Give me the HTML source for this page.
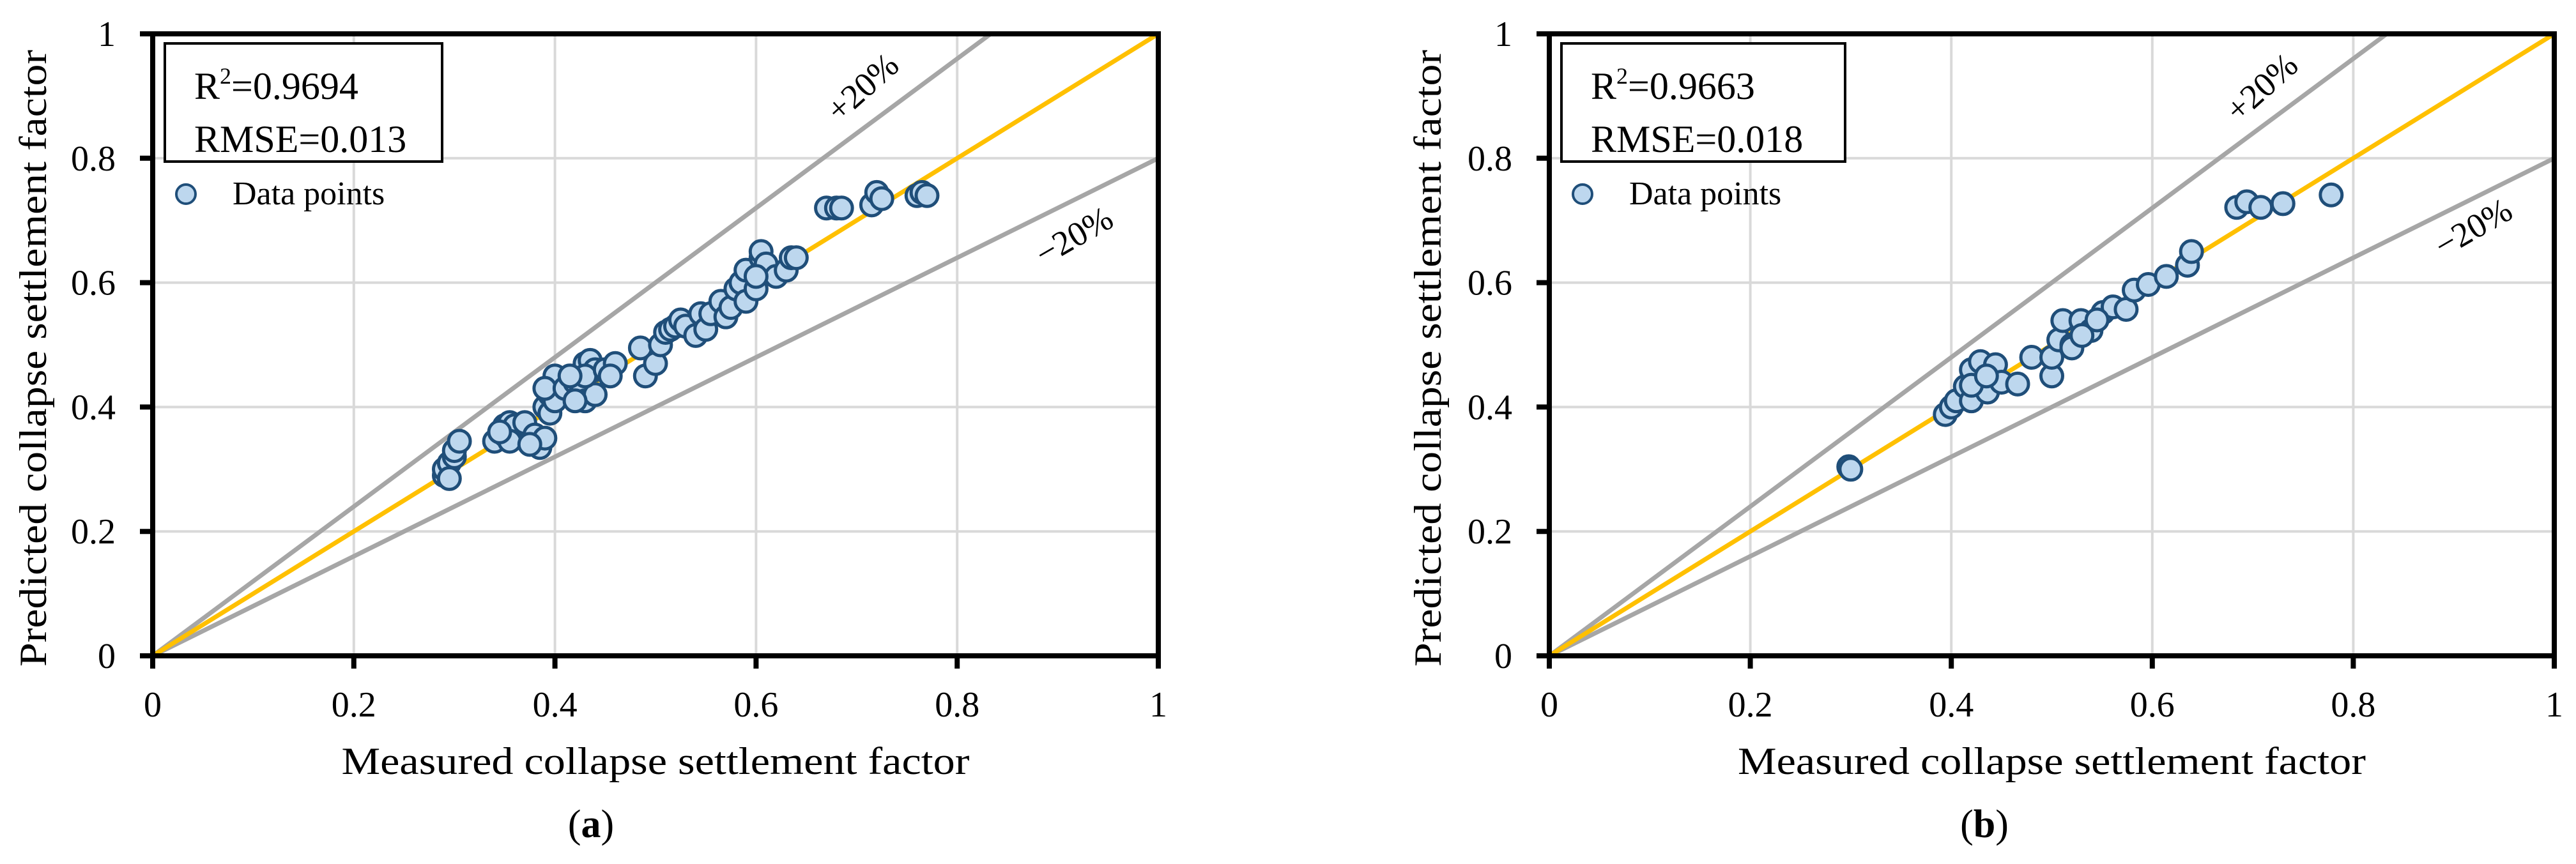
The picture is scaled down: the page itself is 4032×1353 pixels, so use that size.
<!DOCTYPE html>
<html><head><meta charset="utf-8"><style>
html,body{margin:0;padding:0;background:#fff;}
svg{display:block;font-family:"Liberation Serif",serif;}
</style></head><body>
<svg id="fig" width="4032" height="1353" viewBox="0 0 4032 1353" xmlns="http://www.w3.org/2000/svg"></svg>
<script>
const ticks = [0, 0.2, 0.4, 0.6, 0.8, 1];
const tickLabels = ["0", "0.2", "0.4", "0.6", "0.8", "1"];
const measuredA = [0.29,0.29,0.295,0.30,0.30,0.305,0.295,0.34,0.35,0.355,0.35,0.36,0.37,0.355,0.345,0.38,0.385,0.38,0.39,0.375,0.39,0.395,0.40,0.40,0.395,0.40,0.39,0.41,0.42,0.425,0.43,0.435,0.44,0.43,0.44,0.43,0.45,0.46,0.455,0.415,0.42,0.485,0.49,0.50,0.505,0.51,0.515,0.52,0.525,0.53,0.54,0.545,0.55,0.555,0.565,0.57,0.575,0.58,0.585,0.59,0.59,0.60,0.605,0.605,0.61,0.62,0.63,0.635,0.64,0.60,0.67,0.68,0.685,0.715,0.72,0.725,0.76,0.765,0.77];
const predictedA = [0.29,0.30,0.31,0.32,0.33,0.345,0.285,0.345,0.37,0.375,0.355,0.37,0.375,0.345,0.36,0.345,0.335,0.355,0.35,0.34,0.40,0.42,0.44,0.45,0.39,0.41,0.43,0.43,0.44,0.42,0.47,0.475,0.46,0.41,0.42,0.45,0.46,0.47,0.45,0.45,0.41,0.495,0.45,0.47,0.50,0.52,0.525,0.53,0.54,0.53,0.515,0.55,0.525,0.55,0.57,0.545,0.56,0.59,0.60,0.62,0.57,0.59,0.64,0.65,0.63,0.61,0.62,0.64,0.64,0.61,0.72,0.72,0.72,0.725,0.745,0.735,0.74,0.745,0.74];
const measuredB = [0.298,0.30,0.394,0.40,0.405,0.414,0.42,0.42,0.429,0.436,0.444,0.45,0.466,0.48,0.50,0.50,0.507,0.511,0.52,0.529,0.539,0.551,0.561,0.574,0.582,0.596,0.614,0.635,0.639,0.684,0.694,0.708,0.73,0.778,0.52,0.53,0.545,0.42,0.435];
const predictedB = [0.304,0.30,0.388,0.40,0.41,0.433,0.41,0.46,0.473,0.424,0.468,0.44,0.437,0.48,0.45,0.48,0.508,0.539,0.50,0.539,0.523,0.552,0.561,0.557,0.588,0.597,0.61,0.628,0.65,0.721,0.73,0.721,0.727,0.741,0.495,0.515,0.54,0.435,0.45];
const statsA = ["0.9694", "0.013"];
const statsB = ["0.9663", "0.018"];

const NS = "http://www.w3.org/2000/svg";
const svg = document.getElementById("fig");
function mk(tag, attrs, parent, text){
  const e = document.createElementNS(NS, tag);
  for (const k in attrs) e.setAttribute(k, attrs[k]);
  if (text !== undefined) e.textContent = text;
  (parent || svg).appendChild(e);
  return e;
}

function panel(cfg){
  const g = mk("g", {});
  
  
  const X0 = cfg.x0, X1 = cfg.x1, Y0 = 1027, Y1 = 53;
  const sx = v => X0 + v * (X1 - X0);
  const sy = v => Y0 - v * (Y0 - Y1);
  ticks.forEach((t, i) => {
    if (t === 0) return;
    const gv = mk("line", {x1: sx(t), x2: sx(t), y1: Y0, y2: Y1, stroke: "#d9d9d9", "stroke-width": 4}, g);
    
    
    const gh = mk("line", {x1: X0, x2: X1, y1: sy(t), y2: sy(t), stroke: "#d9d9d9", "stroke-width": 4}, g);
    
    
  });
  const up = mk("line", {x1: sx(0), y1: sy(0), x2: sx(1/1.2), y2: sy(1), stroke: "#a6a6a6", "stroke-width": 7}, g);
  
  
  const dn = mk("line", {x1: sx(0), y1: sy(0), x2: sx(1), y2: sy(0.8), stroke: "#a6a6a6", "stroke-width": 7}, g);
  
  
  const eq = mk("line", {x1: sx(0), y1: sy(0), x2: sx(1), y2: sy(1), stroke: "#ffc000", "stroke-width": 7}, g);
  
  
  cfg.mx.forEach((m, i) => {
    const c = mk("circle", {cx: sx(m), cy: sy(cfg.py[i]), r: 17, fill: "#bdd7ee", stroke: "#1f4e79", "stroke-width": 5}, g);
    
    
  });
  const fr = mk("rect", {x: X0, y: Y1, width: X1 - X0, height: Y0 - Y1, fill: "none", stroke: "#000", "stroke-width": 8}, g);
  
  
  ticks.forEach((t, i) => {
    const xt = mk("line", {x1: sx(t), x2: sx(t), y1: Y0, y2: Y0 + 20, stroke: "#000", "stroke-width": 8}, g);
    
    
    const yt = mk("line", {x1: X0 - 20, x2: X0, y1: sy(t), y2: sy(t), stroke: "#000", "stroke-width": 8}, g);
    
    
    const xl = mk("text", {x: sx(t), y: 1122, "font-size": 56, "text-anchor": "middle"}, g, tickLabels[i]);
    
    
    const yl = mk("text", {x: X0 - 58, y: sy(t) + 19, "font-size": 56, "text-anchor": "end"}, g, tickLabels[i]);
    
    
  });
  const bx = mk("rect", {x: X0 + 19, y: 68, width: cfg.boxW, height: 185, fill: "#fff", stroke: "#000", "stroke-width": 4}, g);
  
  
  const r2 = mk("text", {x: X0 + 65, y: 155, "font-size": 60}, g);
  
  
  r2.innerHTML = 'R<tspan font-size="36" dy="-24">2</tspan><tspan dy="24">=' + cfg.stats[0] + '</tspan>';
  const rm = mk("text", {x: X0 + 65, y: 238, "font-size": 60}, g, "RMSE=" + cfg.stats[1]);
  
  
  const lm = mk("circle", {cx: X0 + 52, cy: 304, r: 15, fill: "#bdd7ee", stroke: "#1f4e79", "stroke-width": 4}, g);
  
  
  const lt = mk("text", {x: X0 + 125, y: 320, "font-size": 52}, g, "Data points");
  
  
  const pl = mk("text", {x: 0, y: 0, "font-size": 54, "text-anchor": "middle", transform: "translate(" + cfg.plus[0] + "," + cfg.plus[1] + ") rotate(-42)"}, g, "+20%");
  
  
  const ml = mk("text", {x: 0, y: 0, "font-size": 54, "text-anchor": "middle", transform: "translate(" + cfg.minus[0] + "," + cfg.minus[1] + ") rotate(-30)"}, g, "\u221220%");
  
  
  const xtl = mk("text", {x: (X0 + X1) / 2, y: 1212, "font-size": 60, "text-anchor": "middle", textLength: 983, lengthAdjust: "spacingAndGlyphs"}, g, "Measured collapse settlement factor");
  
  
  const ytl = mk("text", {x: 0, y: 0, "font-size": 60, "text-anchor": "middle", textLength: 966, lengthAdjust: "spacingAndGlyphs", transform: "translate(" + cfg.ytx + ",561) rotate(-90)"}, g, "Predicted collapse settlement factor");
  
  
  const cap = mk("text", {x: cfg.capX, y: 1311, "font-size": 62, "text-anchor": "middle"}, g);
  
  
  cap.innerHTML = '(<tspan font-weight="bold">' + cfg.id + '</tspan>)';
}

panel({id: "a", x0: 239, x1: 1813, mx: measuredA, py: predictedA, stats: statsA, boxW: 434, plus: [1362, 150], minus: [1690, 385], ytx: 72, capX: 925});
panel({id: "b", x0: 2425, x1: 3998, mx: measuredB, py: predictedB, stats: statsB, boxW: 444, plus: [3552, 150], minus: [3880, 372], ytx: 2255, capX: 3106});
</script>
</body></html>
